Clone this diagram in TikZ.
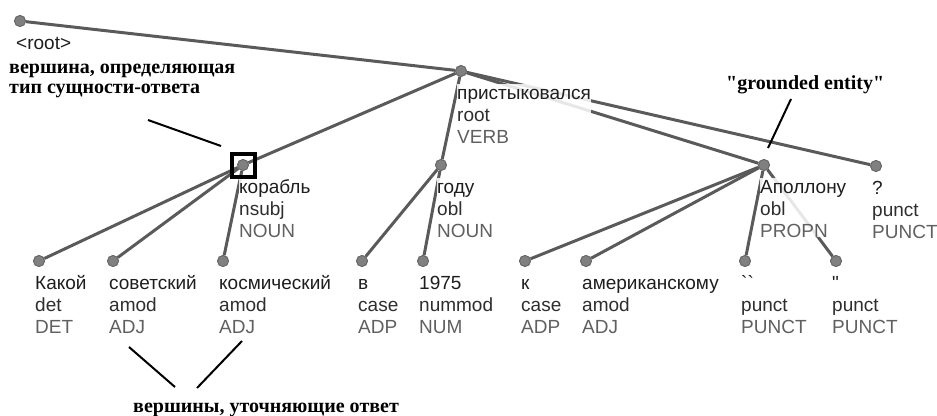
\documentclass[tikz,border=0pt]{standalone}
\usepackage{fontspec}
\setmainfont{Liberation Sans}[Ligatures=TeXOff]
\newfontfamily\notefont{Liberation Serif}[Ligatures=TeXOff]
\definecolor{edgegray}{HTML}{5A5A5A}
\definecolor{dotgray}{HTML}{808080}
\definecolor{dotline}{HTML}{666666}
\definecolor{wordcol}{HTML}{1E1E1E}
\definecolor{relcol}{HTML}{2E2E2E}
\definecolor{poscol}{HTML}{606060}
\newcommand{\tokl}[3]{\strut\textcolor{wordcol}{#1}\\\textcolor{relcol}{#2}\\\textcolor{poscol}{#3}}

\begin{document}
\begin{tikzpicture}[x=1pt, y=-1pt,
    tok/.style={circle, fill=dotgray, draw=dotline, line width=0.8pt, minimum size=11pt, inner sep=0pt},
    lbl/.style={anchor=north west, align=left, inner sep=0pt, fill=white, fill opacity=0.86, text opacity=1,
                font=\fontsize{19}{22}\selectfont},
    note/.style={anchor=base west, align=left, inner sep=0pt, font=\notefont\bfseries\fontsize{20}{20}\selectfont}]
    \useasboundingbox (0,0) rectangle (937,415);

    % token dots
    \begin{scope}[every node/.style={tok}]
      \node (root) at (20,21) {};
      \node (verb) at (461,71) {};
      \node (subj) at (243,165) {};
      \node (year) at (441,165) {};
      \node (apol) at (764,165) {};
      \node (qm)   at (876,166) {};
      \node (det)  at (39,261) {};
      \node (sov)  at (113,261) {};
      \node (kosm) at (223,261) {};
      \node (v)    at (362,261) {};
      \node (num)  at (423,261) {};
      \node (k)    at (525,261) {};
      \node (amer) at (586,261) {};
      \node (qopen)  at (745,261) {};
      \node (qclose) at (836,261) {};
    \end{scope}

    % dependency edges
    \begin{scope}[draw=edgegray, line width=3pt]
      \draw (root) -- (verb);
      \draw (verb) -- (subj);
      \draw (verb) -- (year);
      \draw (verb) -- (apol);
      \draw (verb) -- (qm);
      \draw (subj) -- (det);
      \draw (subj) -- (sov);
      \draw (subj) -- (kosm);
      \draw (year) -- (v);
      \draw (year) -- (num);
      \draw (apol) -- (k);
      \draw (apol) -- (amer);
      \draw (apol) -- (qopen);
      \draw (apol) -- (qclose);
    \end{scope}

    % redraw dots over edges
    \begin{scope}[every node/.style={tok}]
      \foreach \n in {root,verb,subj,year,apol,qm,det,sov,kosm,v,num,k,amer,qopen,qclose}
        \node at (\n) {};
    \end{scope}

    % token labels
    \begin{scope}[every node/.style={lbl}]
      \node (rootl) at ([shift={(-4,12.6)}]root.center) {\strut\textcolor{wordcol}{<root>}};
      \node (verbl) at ([shift={(-4,12.6)}]verb.center) {\tokl{пристыковался}{root}{VERB}};
      \node (subjl) at ([shift={(-4,12.6)}]subj.center) {\tokl{корабль}{nsubj}{NOUN}};
      \node (yearl) at ([shift={(-4,12.6)}]year.center) {\tokl{году}{obl}{NOUN}};
      \node (apoll) at ([shift={(-4,12.6)}]apol.center) {\tokl{Аполлону}{obl}{PROPN}};
      \node (qml)   at ([shift={(-4,12.6)}]qm.center) {\tokl{?}{punct}{PUNCT}};
      \node (detl)  at ([shift={(-4,12.6)}]det.center) {\tokl{Какой}{det}{DET}};
      \node (sovl)  at ([shift={(-4,12.6)}]sov.center) {\tokl{советский}{amod}{ADJ}};
      \node (kosml) at ([shift={(-4,12.6)}]kosm.center) {\tokl{космический}{amod}{ADJ}};
      \node (vl)    at ([shift={(-4,12.6)}]v.center) {\tokl{в}{case}{ADP}};
      \node (numl)  at ([shift={(-4,12.6)}]num.center) {\tokl{1975}{nummod}{NUM}};
      \node (kl)    at ([shift={(-4,12.6)}]k.center) {\tokl{к}{case}{ADP}};
      \node (amerl) at ([shift={(-4,12.6)}]amer.center) {\tokl{американскому}{amod}{ADJ}};
      \node (qopenl)  at ([shift={(-4,12.6)}]qopen.center) {\tokl{\symbol{96}\symbol{96}}{punct}{PUNCT}};
      \node (qclosel) at ([shift={(-4,12.6)}]qclose.center) {\tokl{\symbol{34}}{punct}{PUNCT}};
    \end{scope}

    % highlight of the answer-type head
    \node [draw=black, line width=4pt, minimum size=23pt, inner sep=0pt] (hl) at (subj) {};

    % annotations
    \node [note] (headnote) at (9,93) {вершина, определяющая\\тип сущности-ответа};
    \node [note] (entnote) at (726,89) {\symbol{34}grounded entity\symbol{34}};
    \node [note] (modnote) at (133,412) {вершины, уточняющие ответ};

    \coordinate (h1) at (148,120);
    \coordinate (h2) at (221,146);
    \coordinate (e1) at (791,99);
    \coordinate (e2) at (768,148);
    \coordinate (m1) at (129,347);
    \coordinate (m2) at (175,387);
    \coordinate (m3) at (242,341);
    \coordinate (m4) at (197,388);
    \begin{scope}[black, line width=2pt]
      \draw (h1) -- (h2);
      \draw (e1) -- (e2);
      \draw (m1) -- (m2);
      \draw (m3) -- (m4);
    \end{scope}
\end{tikzpicture}
\end{document}
